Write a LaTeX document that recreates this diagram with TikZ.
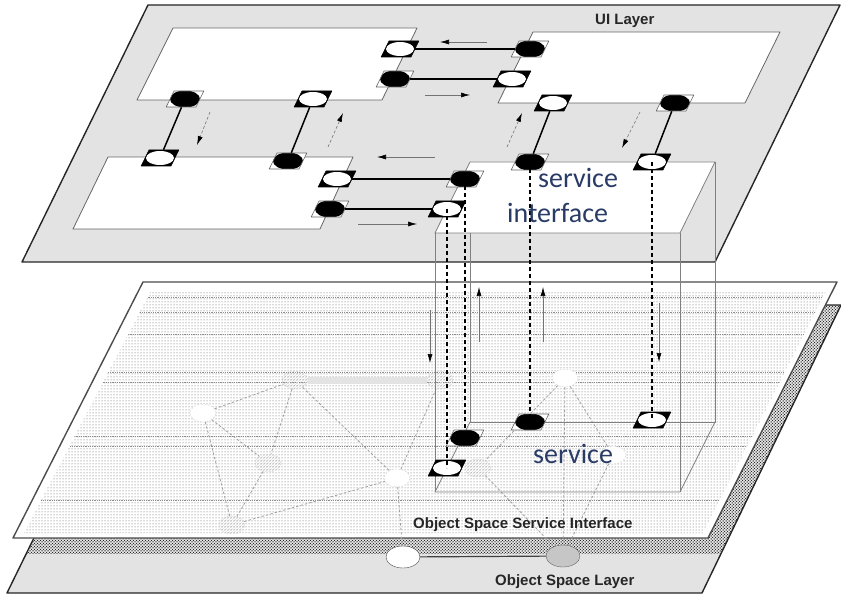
\documentclass[tikz,border=0pt]{standalone}
\usepackage{fontspec}
\setsansfont{Liberation Sans}
\newfontfamily\servicefont{Carlito}
\usetikzlibrary{shapes.geometric,patterns,arrows.meta}
\definecolor{layergray}{gray}{0.89}
\definecolor{svcblue}{rgb}{0.16,0.23,0.40}

\begin{document}
\begin{tikzpicture}[x=1pt,y=-1pt,line join=round,
port/.style={trapezium,trapezium left angle=64,trapezium right angle=116,
  text width=22pt,text height=8pt,text depth=8pt,inner sep=0pt},
blackport/.style={port,fill=white,draw=black!60,line width=0.6pt,
  path picture={\fill[black] (path picture bounding box.center) ellipse (15pt and 8.5pt);}},
whiteport/.style={port,fill=black,draw=black,line width=0.6pt,
  path picture={\fill[white] (path picture bounding box.center) ellipse (14pt and 7pt);}},
objnode/.style={ellipse,minimum width=26pt,minimum height=18pt,inner sep=0pt,
  fill=white,draw=gray!35,dash pattern=on 2pt off 1.5pt},
hatchnode/.style={objnode,pattern=north east lines,pattern color=gray!50},
objedge/.style={gray!75,line width=0.8pt,dash pattern=on 2.5pt off 2pt},
layer/.style={draw=black!85,line width=1.4pt},
panel/.style={fill=white,draw=black!60,line width=0.8pt},
boxline/.style={draw=black!50,line width=0.8pt},
wire/.style={black,line width=1.5pt},
probe/.style={black,line width=1.1pt,dash pattern=on 4pt off 3pt},
flow/.style={black!55,line width=0.6pt,-{Latex[length=9pt,width=5pt,color=black]}},
layertext/.style={font=\sffamily\bfseries\fontsize{15}{15}\selectfont,text=black!85,inner sep=0pt},
svclabel/.style={font=\servicefont\fontsize{28}{28}\selectfont,text=svcblue,inner sep=0pt}]
\useasboundingbox (0,0) rectangle (841,596);

% object space layer
\fill[layergray] (148,305) -- (841,305) -- (702,593) -- (7,593) -- cycle;
\begin{scope}
\clip (148,305) -- (841,305) -- (702,593) -- (7,593) -- cycle;
\fill[pattern=crosshatch dots,pattern color=black] (0,280) rectangle (841,553);
\fill[pattern=dots,pattern color=black] (0,280) rectangle (841,553);
\end{scope}
\draw[layer] (148,305) -- (841,305) -- (702,593) -- (7,593) -- cycle;

% object space service interface
\filldraw[fill=white,layer,draw=black!70] (143,282) -- (837,282) -- (708,538) -- (13,538) -- cycle;
\begin{scope}
\clip (151,291) -- (826,291) -- (703,533) -- (24,533) -- cycle;
\fill[pattern=dots,pattern color=black!65] (0,280) rectangle (841,540);
\foreach \yy in {297,312,334,372,382,436,446,500}
  \draw[black!45,densely dotted,line width=0.8pt] (0,\yy) -- (841,\yy);
\end{scope}

% objects
\node[objnode] (n1) at (203,413) {};
\node[hatchnode] (n2) at (295,380) {};
\node[hatchnode] (n3) at (268,463) {};
\node[hatchnode] (n4) at (232,525) {};
\node[objnode] (n5) at (397,478) {};
\node[hatchnode] (n6) at (440,380) {};
\node[objnode] (n7) at (565,378) {};
\node[objnode] (n8) at (613,455) {};
\node[hatchnode] (n9) at (478,468) {};
\draw[gray!22,line width=7pt] (n2) -- (n6);
\draw[objedge] (n1) -- (n2);
\draw[objedge] (n1) -- (n3);
\draw[objedge] (n1) -- (n4);
\draw[objedge] (n2) -- (n3);
\draw[objedge] (n2) -- (n5);
\draw[objedge] (n3) -- (n4);
\draw[objedge] (n4) -- (n5);
\draw[objedge] (n5) -- (n6);
\draw[objedge] (n7) -- (n8);
\draw[objedge] (n7) -- (n9);
\node[ellipse,minimum width=34pt,minimum height=22pt,fill=white,draw=black!70] (m1) at (403,557) {};
\node[ellipse,minimum width=34pt,minimum height=22pt,fill=gray!45,draw=black!60] (m2) at (563,556) {};
\draw[black!75,line width=1.2pt] (m1) -- (m2);
\draw[objedge] (n5) -- (m1);
\draw[objedge] (n8) -- (m2);
\draw[objedge] (n9) -- (m2);
\draw[objedge] (n7) -- (m2);

% UI layer
\filldraw[fill=layergray,layer] (148,5) -- (840,5) -- (715,262) -- (22,262) -- cycle;
\draw[panel] (173,28) -- (417,28) -- (382,100) -- (137,100) -- cycle;
\draw[panel] (533,32) -- (780,32) -- (745,103) -- (498,103) -- cycle;
\draw[panel] (108,157) -- (353,157) -- (320,229) -- (73,229) -- cycle;

% service box
\draw[boxline] (470,162) -- (470,422) -- (715,422) -- (715,162);
\draw[boxline] (470,422) -- (435,492) -- (680,492) -- (715,422);
\draw[boxline] (435,233) -- (435,492);
\draw[boxline] (680,233) -- (680,492);
\draw[panel,draw=black!50] (470,162) -- (715,162) -- (680,233) -- (435,233) -- cycle;

% ports
\node[blackport] (p1) at (185,99) {};
\node[whiteport] (p2) at (313,99) {};
\node[whiteport] (p3) at (400,49) {};
\node[blackport] (p4) at (395,79) {};
\node[whiteport] (p5) at (160,158) {};
\node[blackport] (p6) at (288,161) {};
\node[whiteport] (p7) at (337,179) {};
\node[blackport] (p8) at (330,209) {};
\node[blackport] (p9) at (530,49) {};
\node[whiteport] (p10) at (512,79) {};
\node[whiteport] (p11) at (553,103) {};
\node[blackport] (p12) at (675,103) {};
\node[blackport] (p13) at (530,162) {};
\node[whiteport] (p14) at (652,162) {};
\node[blackport] (p15) at (465,179) {};
\node[whiteport] (p16) at (447,209) {};
\node[blackport] (q13) at (530,422) {};
\node[whiteport] (q14) at (652,420) {};
\node[blackport] (q15) at (465,438) {};
\node[whiteport] (q16) at (447,468) {};

\draw[wire] (p1) -- (p5);
\draw[wire] (p2) -- (p6);
\draw[wire] (p3) -- (p9);
\draw[wire] (p4) -- (p10);
\draw[wire] (p7) -- (p15);
\draw[wire] (p8) -- (p16);
\draw[wire] (p11) -- (p13);
\draw[wire] (p12) -- (p14);

\draw[probe] (p13.center) -- (q13.center);
\draw[probe] (p14.center) -- (q14.center);
\draw[probe] (p15.center) -- (q15.center);
\draw[probe] (p16.center) -- (q16.center);

% message arrows
\coordinate (a1s) at (487,42);  \coordinate (a1e) at (440,42);
\coordinate (a2s) at (425,95);  \coordinate (a2e) at (470,95);
\coordinate (a3s) at (210,112); \coordinate (a3e) at (197,145);
\coordinate (a4s) at (328,147); \coordinate (a4e) at (343,113);
\coordinate (a5s) at (507,147); \coordinate (a5e) at (522,113);
\coordinate (a6s) at (640,112); \coordinate (a6e) at (622,148);
\coordinate (a7s) at (435,157); \coordinate (a7e) at (377,157);
\coordinate (a8s) at (358,224); \coordinate (a8e) at (417,224);
\coordinate (v1s) at (430,310); \coordinate (v1e) at (430,363);
\coordinate (v2s) at (479,342); \coordinate (v2e) at (479,287);
\coordinate (v3s) at (543,342); \coordinate (v3e) at (543,287);
\coordinate (v4s) at (659,303); \coordinate (v4e) at (659,362);
\draw[flow] (a1s) -- (a1e);
\draw[flow] (a2s) -- (a2e);
\draw[flow,densely dashed] (a3s) -- (a3e);
\draw[flow,densely dashed] (a4s) -- (a4e);
\draw[flow,densely dashed] (a5s) -- (a5e);
\draw[flow,densely dashed] (a6s) -- (a6e);
\draw[flow] (a7s) -- (a7e);
\draw[flow] (a8s) -- (a8e);
\draw[flow] (v1s) -- (v1e);
\draw[flow] (v2s) -- (v2e);
\draw[flow] (v3s) -- (v3e);
\draw[flow] (v4s) -- (v4e);

% texts
\node[layertext,anchor=base west] (uilabel) at (595,25) {UI Layer};
\node[layertext,anchor=base west] (oslabel) at (413,528) {Object Space Service Interface};
\node[layertext,anchor=base west] (ollabel) at (495,585) {Object Space Layer};
\node[svclabel,anchor=base west] (svc1) at (538,188) {service};
\node[svclabel,anchor=base west] (svc2) at (507,223) {interface};
\node[svclabel,anchor=base west] (svc3) at (533,463) {service};
\end{tikzpicture}
\end{document}
